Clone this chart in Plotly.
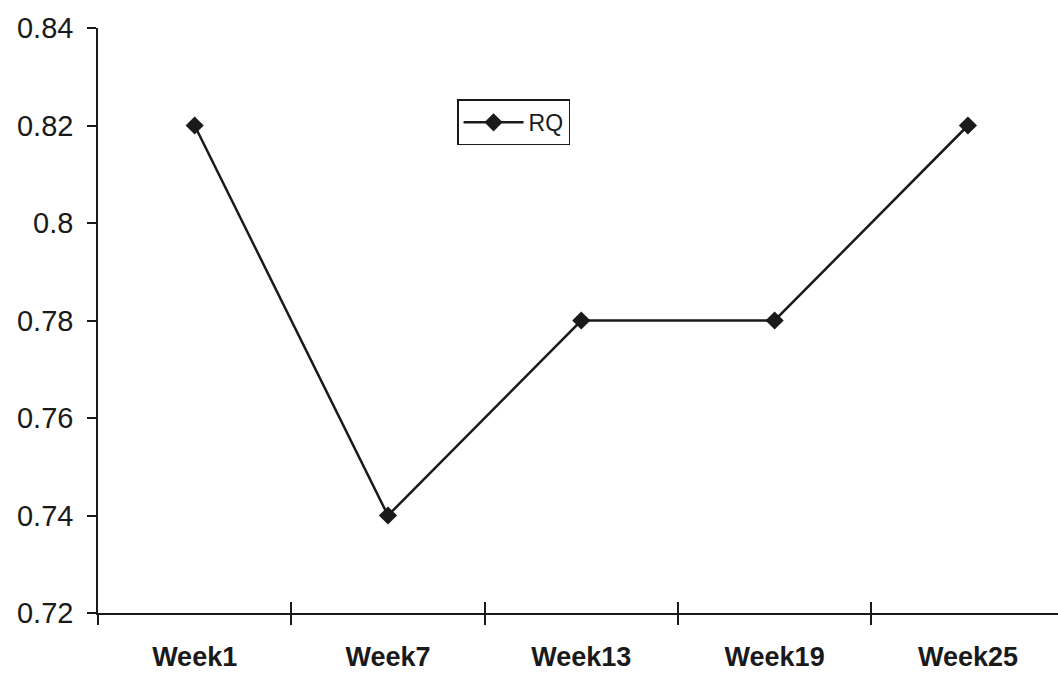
import plotly.graph_objects as go

weeks = ["Week1", "Week7", "Week13", "Week19", "Week25"]
rq = [0.82, 0.74, 0.78, 0.78, 0.82]
y_ticks = [0.72, 0.74, 0.76, 0.78, 0.80, 0.82, 0.84]
y_labels = ["0.72", "0.74", "0.76", "0.78", "0.8", "0.82", "0.84"]

pos = list(range(len(weeks)))
bounds = [p - 0.5 for p in pos]
x_range = [-0.5, 4.466]
ink = "#1a1a1a"

fig = go.Figure()
fig.add_trace(go.Scatter(
    x=pos, y=rq, name="RQ", mode="lines+markers",
    line=dict(color=ink, width=2.5),
    marker=dict(symbol="diamond", size=14, color=ink),
))
# invisible helpers so the overlaid tick axes render
for ax in ("x2", "x3"):
    fig.add_trace(go.Scatter(x=pos, y=rq, xaxis=ax, showlegend=False,
                             mode="lines", line=dict(width=0), hoverinfo="skip"))

boundary_axis = dict(range=x_range, overlaying="x", side="bottom", anchor="y",
                     tickvals=bounds, showticklabels=False, ticklen=11,
                     tickcolor=ink, tickwidth=1.5, showgrid=False,
                     zeroline=False, showline=False, automargin=False)

fig.update_layout(
    width=1058, height=676,
    margin=dict(l=98, r=0, t=28, b=63),
    paper_bgcolor="white", plot_bgcolor="white",
    font=dict(family="Liberation Sans, Arial", color=ink),
    showlegend=True,
    legend=dict(x=0.374, y=0.878, xanchor="left", yanchor="top",
                bordercolor=ink, borderwidth=1.5, bgcolor="white",
                font=dict(size=23), itemwidth=60),
    xaxis=dict(
        range=x_range, tickvals=pos, ticktext=weeks,
        tickfont=dict(size=27, weight="bold"),
        ticks="", ticklabelstandoff=19, automargin=False,
        showline=True, linecolor=ink, linewidth=1.5,
        showgrid=False, zeroline=False,
    ),
    xaxis2=dict(ticks="inside", **boundary_axis),
    xaxis3=dict(ticks="outside", **boundary_axis),
    yaxis=dict(
        range=[0.72, 0.84], tickvals=y_ticks, ticktext=y_labels,
        tickfont=dict(size=29), automargin=False,
        ticks="outside", ticklen=9, tickcolor=ink, tickwidth=1.5,
        ticklabelstandoff=8,
        showline=True, linecolor=ink, linewidth=1.5,
        showgrid=False, zeroline=False,
    ),
)

fig.write_html("out.html")
